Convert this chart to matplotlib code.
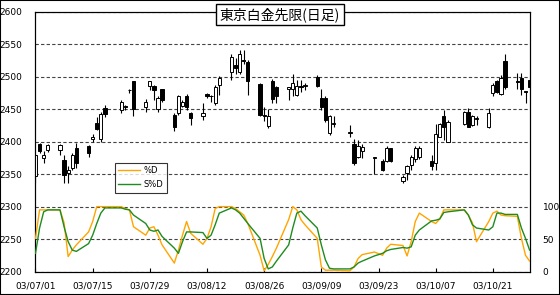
import matplotlib.pyplot as plt
import numpy as np
from matplotlib.patches import Rectangle

# daily candles (trading days only), Jul-Oct 2003
dates = ['07/01', '07/02', '07/03', '07/04',
         '07/07', '07/08', '07/09', '07/10', '07/11',
         '07/14', '07/15', '07/16', '07/17', '07/18',
         '07/22', '07/23', '07/24', '07/25',
         '07/28', '07/29', '07/30', '07/31', '08/01',
         '08/04', '08/05', '08/06', '08/07', '08/08',
         '08/11', '08/12', '08/13', '08/14', '08/15',
         '08/18', '08/19', '08/20', '08/21', '08/22',
         '08/25', '08/26', '08/27', '08/28', '08/29',
         '09/01', '09/02', '09/03', '09/04', '09/05',
         '09/08', '09/09', '09/10', '09/11', '09/12',
         '09/16', '09/17', '09/18', '09/19',
         '09/22', '09/24', '09/25', '09/26',
         '09/29', '09/30', '10/01', '10/02', '10/03',
         '10/06', '10/07', '10/08', '10/09', '10/10',
         '10/14', '10/15', '10/16', '10/17',
         '10/20', '10/21', '10/22', '10/23', '10/24',
         '10/27', '10/28', '10/29', '10/30']

opens = [2347, 2397, 2375, 2388,
         2388, 2372, 2352, 2359, 2390,
         2393, 2404, 2429, 2404, 2452,
         2449, 2455, 2479, 2493,
         2454, 2486, 2486, 2450, 2481,
         2442, 2444, 2455, 2470, 2444,
         2439, 2473, 2470, 2460, 2487,
         2508, 2518, 2508, 2526, 2523,
         2489, 2442, 2424, 2494, 2485,
         2482, 2482, 2472, 2486, 2486,
         2500, 2468, 2467, 2414, 2428,
         2414, 2397, 2377, 2385,
         2375, 2371, 2371, 2390,
         2339, 2352, 2364, 2374, 2377,
         2370, 2368, 2408, 2440, 2400,
         2428, 2446, 2426, 2435,
         2422, 2475, 2493, 2474, 2525,
         2493, 2498, 2478, 2495]

highs = [2381, 2398, 2385, 2397,
         2396, 2380, 2362, 2382, 2398,
         2395, 2412, 2438, 2446, 2457,
         2465, 2457, 2482, 2494,
         2466, 2494, 2487, 2470, 2482,
         2444, 2472, 2464, 2473, 2446,
         2459, 2475, 2472, 2487, 2501,
         2536, 2529, 2542, 2542, 2526,
         2490, 2453, 2451, 2497, 2486,
         2484, 2505, 2495, 2495, 2490,
         2503, 2482, 2470, 2441, 2439,
         2426, 2404, 2403, 2397,
         2377, 2373, 2393, 2391,
         2349, 2364, 2380, 2393, 2393,
         2380, 2428, 2429, 2449, 2434,
         2448, 2452, 2441, 2440,
         2452, 2490, 2495, 2503, 2535,
         2506, 2506, 2478, 2496]

lows = [2337, 2382, 2368, 2384,
        2380, 2336, 2336, 2357, 2359,
        2377, 2400, 2418, 2400, 2438,
        2444, 2449, 2475, 2439,
        2446, 2480, 2464, 2446, 2462,
        2417, 2441, 2453, 2449, 2426,
        2434, 2467, 2462, 2457, 2472,
        2495, 2505, 2505, 2520, 2472,
        2439, 2432, 2421, 2459, 2459,
        2464, 2470, 2470, 2477, 2480,
        2484, 2449, 2431, 2410, 2423,
        2408, 2364, 2375, 2375,
        2351, 2355, 2369, 2369,
        2337, 2341, 2356, 2369, 2373,
        2357, 2357, 2407, 2403, 2399,
        2426, 2422, 2424, 2426,
        2421, 2470, 2475, 2472, 2482,
        2482, 2472, 2459, 2483]

closes = [2380, 2386, 2380, 2395,
          2395, 2349, 2356, 2380, 2367,
          2383, 2408, 2419, 2443, 2443,
          2462, 2454, 2480, 2451,
          2462, 2493, 2480, 2468, 2464,
          2423, 2470, 2462, 2454, 2436,
          2444, 2471, 2471, 2485, 2499,
          2530, 2513, 2536, 2525, 2493,
          2441, 2440, 2440, 2466, 2470,
          2484, 2490, 2486, 2485, 2486,
          2486, 2453, 2434, 2439, 2428,
          2414, 2368, 2393, 2392,
          2375, 2357, 2390, 2370,
          2346, 2362, 2376, 2391, 2390,
          2363, 2412, 2428, 2423, 2431,
          2446, 2423, 2440, 2436,
          2445, 2488, 2477, 2499, 2485,
          2492, 2482, 2477, 2485]

# stochastics (right axis, 0-100)
pct_d = [51, 95, 95, 95, 95, 75, 23, 33, 41, 61, 77, 100, 100, 100, 100,
         97, 95, 69, 56, 67, 69, 56, 41, 13, 33, 56, 77, 59, 42, 51,
         69, 97, 100, 100, 97, 92, 87, 74, 25, 1, 11, 23, 36,
         80, 100, 95, 80, 72, 51, 7, 2, 2, 2, 1, 7, 20, 26, 30,
         25, 36, 42, 40, 24, 46, 77, 90, 77, 74, 81, 95, 95, 95, 87,
         75, 46, 77, 90, 93, 87, 86, 85, 51, 25, 16]

slow_d = [28, 67, 92, 95, 95, 69, 46, 33, 31, 43, 56, 74, 90, 98, 98,
          96, 95, 87, 74, 64, 62, 64, 54, 36, 28, 46, 61, 61, 60, 51,
          56, 72, 90, 98, 95, 90, 82, 74, 51, 20, 4, 7, 16,
          41, 67, 90, 93, 86, 67, 41, 18, 5, 4, 4, 7, 13, 16, 24,
          28, 32, 34, 37, 36, 38, 56, 64, 78, 79, 81, 91, 92, 95, 87,
          72, 67, 64, 69, 90, 90, 88, 88, 67, 51, 33]

tick_labels = ['03/07/01', '03/07/15', '03/07/29', '03/08/12', '03/08/26',
               '03/09/09', '03/09/23', '03/10/07', '03/10/21']

# x = calendar days since 07/01
start = np.datetime64('2003-07-01')
x = np.array([np.datetime64('2003-' + d.replace('/', '-')) for d in dates])
x = (x - start).astype(int)

plt.rcParams['font.family'] = ['DejaVu Sans']

fig = plt.figure(figsize=(5.6, 2.95), dpi=100)
ax = fig.add_axes([35/560, 1 - 271.5/295, 495/560, 259.5/295])

# candles
w = 0.8
for xi, o, h, l, c in zip(x, opens, highs, lows, closes):
    ax.vlines(xi, l, h, color='black', lw=0.8, zorder=3)
    up = c >= o
    ax.add_patch(Rectangle((xi - w/2, min(o, c)), w, max(abs(c - o), 0.8),
                           facecolor='white' if up else 'black',
                           edgecolor='black', lw=0.7, zorder=4))

ax.set_xlim(-0.12, 121.1)
ax.set_ylim(2200, 2600)
ax.set_yticks(np.arange(2200, 2601, 50))
ax.set_xticks(np.arange(0, 113, 14))
ax.set_xticklabels(tick_labels)
ax.tick_params(axis='x', direction='in', length=3, pad=7, labelsize=6.5)
ax.tick_params(axis='y', length=0, pad=9, labelsize=6.5)
ax.grid(axis='y', color='#444444', linestyle=(0, (3, 2)), lw=0.8)
ax.set_axisbelow(True)
for s in ax.spines.values():
    s.set_color('black')
    s.set_linewidth(0.8)

# stochastics on right scale
ax2 = ax.twinx()
ax2.set_ylim(0, 400)
ax2.plot(x, pct_d, color='#FFA500', lw=1.0, label='%D', zorder=5)
ax2.plot(x, slow_d, color='#1E8C1E', lw=1.0, label='S%D', zorder=5)
ax2.set_yticks([0, 50, 100])
ax2.tick_params(axis='y', length=0, pad=9, labelsize=6.5)
for lab in ax2.get_yticklabels():
    lab.set_horizontalalignment('left')

leg = ax2.legend(loc='upper left', bbox_to_anchor=(0.161, 0.418), fontsize=6,
                 frameon=True, fancybox=False, edgecolor='black',
                 handlelength=2.6, borderpad=0.4, labelspacing=0.6,
                 handletextpad=0.5, borderaxespad=0)
leg.get_frame().set_linewidth(0.8)

fig.text(0.5, 1 - 14.5/295, '東京白金先限(日足)', ha='center', va='center',
         fontsize=10, family=['Noto Sans CJK JP', 'DejaVu Sans'],
         bbox=dict(boxstyle='square,pad=0.25', facecolor='white',
                   edgecolor='black', lw=1))

fig.patches.append(Rectangle((0, 0), 1, 1, transform=fig.transFigure,
                             fill=False, edgecolor='black', lw=1.5))

fig.savefig('out.png', dpi=100)
